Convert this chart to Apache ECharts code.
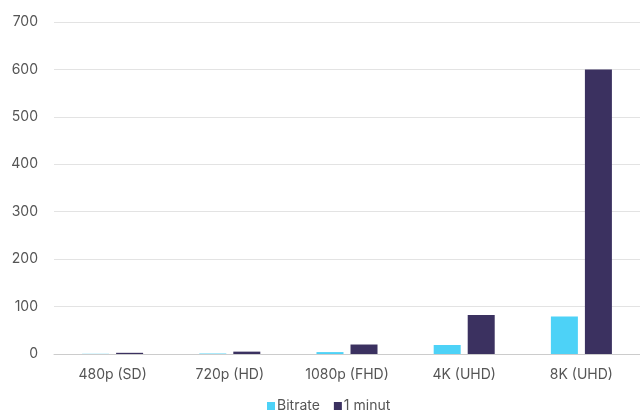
<!DOCTYPE html>
<html><head><meta charset="utf-8">
<script src="https://cdn.jsdelivr.net/npm/echarts@6/dist/echarts.min.js"></script>
<style>html,body{margin:0;padding:0;background:#fff}#c{width:640px;height:412px}</style>
</head><body><div id="c"></div>
<script>
const categories = ['480p (SD)', '720p (HD)', '1080p (FHD)', '4K (UHD)', '8K (UHD)'];
const bitrate = [0.4, 1, 4, 19, 79];
const minut = [2.5, 5, 20, 82, 600];
const seriesNames = ['Bitrate', '1 minut'];

const chart = echarts.init(document.getElementById('c'));
const font = 'Inter, "Open Sans", sans-serif';
chart.setOption({
  animation: false,
  textStyle: { fontFamily: font },
  grid: { left: 54, right: 0, top: 22, bottom: 58 },
  legend: {
    top: 394, left: 262, itemWidth: 8, itemHeight: 8, itemGap: 14,
    icon: 'rect',
    textStyle: { fontFamily: font, fontSize: 14, color: '#555', padding: [0, 0, 0, -3] },
    data: seriesNames
  },
  xAxis: {
    type: 'category', data: categories,
    axisLine: { lineStyle: { color: '#ccc' } },
    axisTick: { show: false },
    axisLabel: { color: '#555', fontSize: 14, fontFamily: font, margin: 14 }
  },
  yAxis: {
    type: 'value', min: 0, max: 700, interval: 100,
    axisLine: { show: false }, axisTick: { show: false },
    splitLine: { lineStyle: { color: '#e3e3e3' } },
    axisLabel: { color: '#555', fontSize: 14, fontFamily: font, margin: 16 }
  },
  series: [
    { name: seriesNames[0], type: 'bar', data: bitrate, barWidth: 27, barGap: '26%', itemStyle: { color: '#4dd2f7' } },
    { name: seriesNames[1], type: 'bar', data: minut, barWidth: 27, itemStyle: { color: '#3b3160' } }
  ]
});
</script></body></html>
